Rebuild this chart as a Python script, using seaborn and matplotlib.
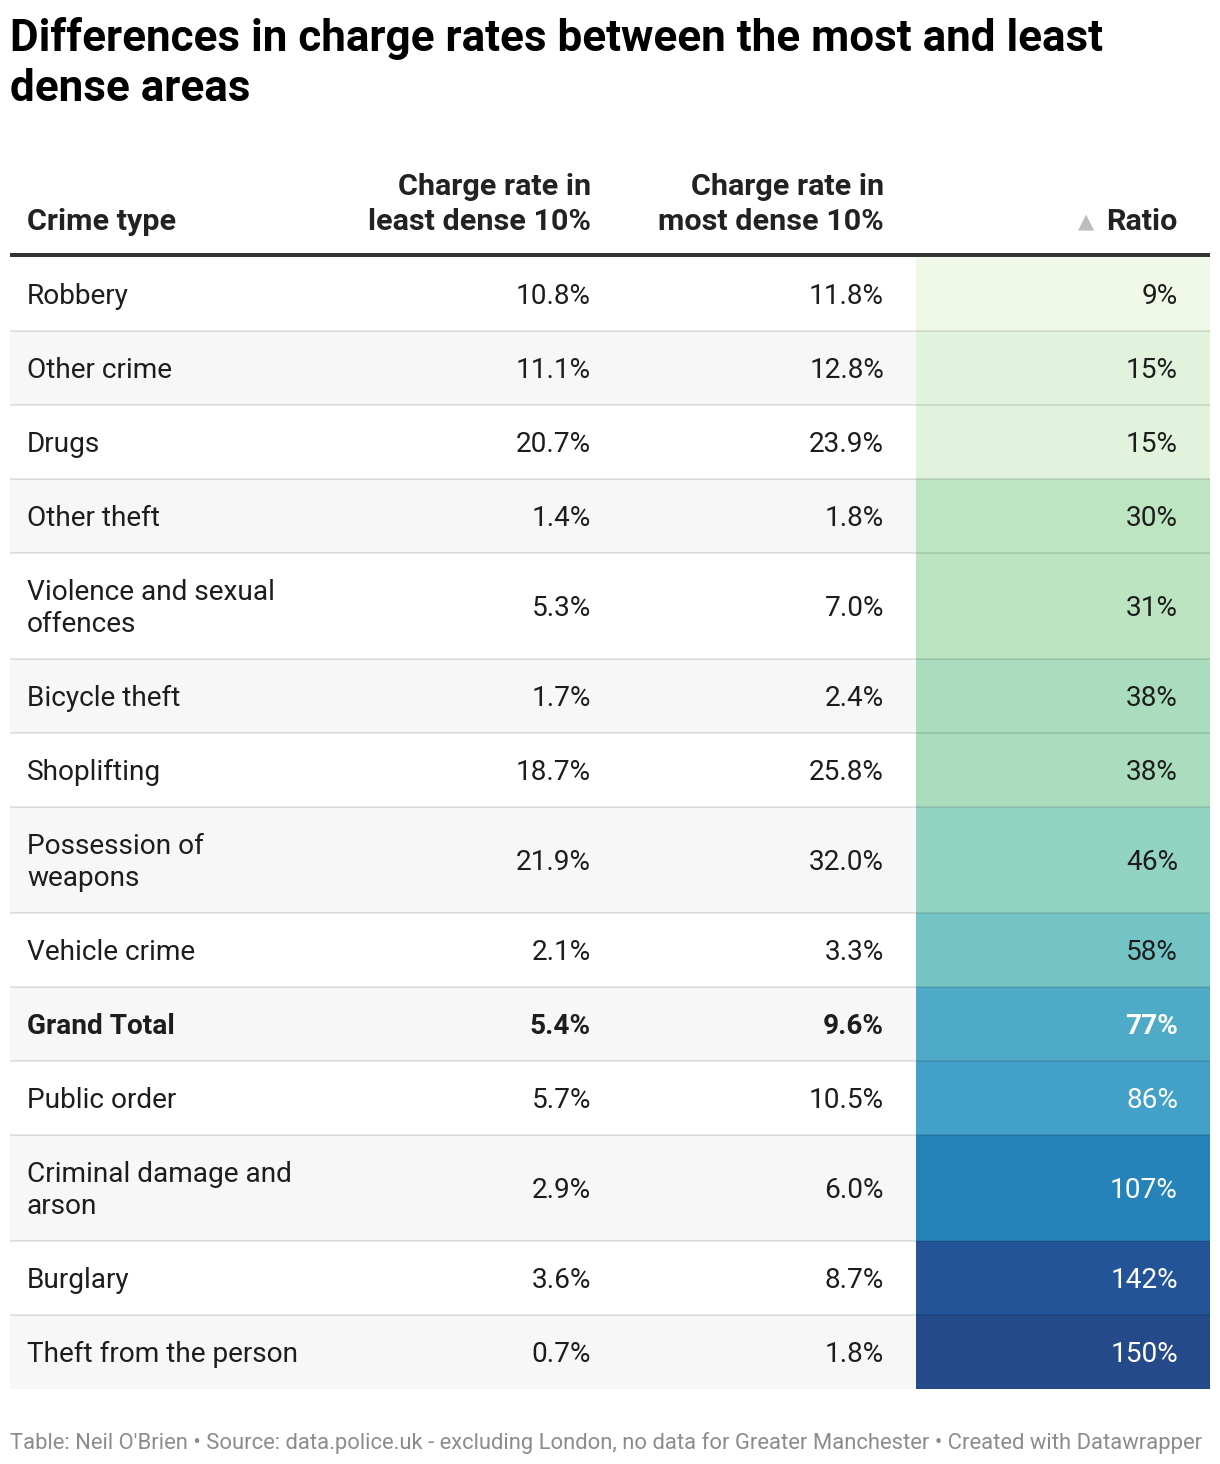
import matplotlib
matplotlib.use('Agg')
import matplotlib.pyplot as plt
from matplotlib.colors import LinearSegmentedColormap, Normalize
import seaborn as sns

# Table data
crime_types = ['Robbery', 'Other crime', 'Drugs', 'Other theft',
               'Violence and sexual\noffences', 'Bicycle theft', 'Shoplifting',
               'Possession of\nweapons', 'Vehicle crime', 'Grand Total',
               'Public order', 'Criminal damage and\narson', 'Burglary',
               'Theft from the person']
least_dense = [10.8, 11.1, 20.7, 1.4, 5.3, 1.7, 18.7, 21.9, 2.1, 5.4, 5.7, 2.9, 3.6, 0.7]
most_dense = [11.8, 12.8, 23.9, 1.8, 7.0, 2.4, 25.8, 32.0, 3.3, 9.6, 10.5, 6.0, 8.7, 1.8]
ratio = [9, 15, 15, 30, 31, 38, 38, 46, 58, 77, 86, 107, 142, 150]
bold_rows = ['Grand Total']

# Colour stops for the ratio column (value, colour)
RATIO_STOPS = [(9, '#f0f9e8'), (15, '#e0f2db'), (30, '#bee5c1'), (38, '#a8ddbe'),
               (46, '#93d3c1'), (58, '#74c4c5'), (77, '#4faac8'), (86, '#43a0c8'),
               (107, '#2683ba'), (142, '#225497'), (150, '#244a8a')]

sns.set_theme(style='white')
plt.rcParams['font.family'] = ['Roboto', 'DejaVu Sans']

PT = 0.72          # px -> pt at dpi 100
W, H = 1220, 1464
LEFT, RIGHT = 10, 1210
RATIO_X0 = 916
COL_X = [27, 591, 884, 1178]
TOP = 257
ROW_H1, ROW_H2 = 74, 106
DARK = '#1d1d1d'

vmin, vmax = RATIO_STOPS[0][0], RATIO_STOPS[-1][0]
cmap = LinearSegmentedColormap.from_list(
    'ratio', [((v - vmin) / (vmax - vmin), c) for v, c in RATIO_STOPS])
norm = Normalize(vmin, vmax)

fig = plt.figure(figsize=(W / 100, H / 100), dpi=100)
ax = fig.add_axes([0, 0, 1, 1])
ax.set_xlim(0, W)
ax.set_ylim(H, 0)
ax.axis('off')


def draw_lines(x, yc, text, ha, size=28, gap=32, **kw):
    lines = text.split('\n')
    n = len(lines)
    for i, line in enumerate(lines):
        yb = yc - (n - 1) * gap / 2 + i * gap + size * 0.355
        ax.text(x, yb, line, ha=ha, va='baseline', fontsize=size * PT, **kw)


# Title
ax.text(LEFT, 51, 'Differences in charge rates between the most and least',
        fontsize=44 * PT, fontweight='bold', color='#000000', va='baseline')
ax.text(LEFT, 101, 'dense areas', fontsize=44 * PT, fontweight='bold',
        color='#000000', va='baseline')

# Header
hdr = dict(fontweight='bold', color='#222222', size=30.5, gap=35)
draw_lines(COL_X[0], 219, 'Crime type', 'left', **hdr)
draw_lines(COL_X[1], 201.5, 'Charge rate in\nleast dense 10%', 'right', **hdr)
draw_lines(COL_X[2], 201.5, 'Charge rate in\nmost dense 10%', 'right', **hdr)
draw_lines(COL_X[3], 219, 'Ratio', 'right', **hdr)
ax.text(1086, 228, '▲', ha='center', va='baseline', fontsize=21 * PT,
        color='#bdbdbd', family='DejaVu Sans')
ax.plot([LEFT, RIGHT], [255, 255], color='#333333', lw=4 * PT,
        solid_capstyle='butt')

# Rows
y = TOP
for i, name in enumerate(crime_types):
    h = ROW_H2 if '\n' in name else ROW_H1
    yc = y + h / 2
    if i % 2 == 1:
        ax.barh(yc, RIGHT - LEFT, height=h, left=LEFT, color='#f7f7f7', lw=0)
    r = ratio[i]
    ax.barh(yc, RIGHT - RATIO_X0, height=h, left=RATIO_X0,
            color=cmap(norm(r)), lw=0)
    if i > 0:
        ax.plot([LEFT, RIGHT], [y, y], color='black', alpha=0.1, lw=2 * PT,
                solid_capstyle='butt')
    weight = 'bold' if name in bold_rows else 'normal'
    draw_lines(COL_X[0], yc, name, 'left', color=DARK, fontweight=weight)
    draw_lines(COL_X[1], yc, f'{least_dense[i]:.1f}%', 'right', color=DARK,
               fontweight=weight)
    draw_lines(COL_X[2], yc, f'{most_dense[i]:.1f}%', 'right', color=DARK,
               fontweight=weight)
    txt_color = 'white' if r >= 70 else DARK
    draw_lines(COL_X[3], yc, f'{r}%', 'right', color=txt_color,
               fontweight=weight)
    y += h

# Footer
ax.text(LEFT, 1449, "Table: Neil O'Brien • Source: data.police.uk - excluding London, "
        "no data for Greater Manchester • Created with Datawrapper",
        fontsize=22 * PT, color='#8c8c8c', va='baseline')

fig.savefig('out.png', dpi=100)
